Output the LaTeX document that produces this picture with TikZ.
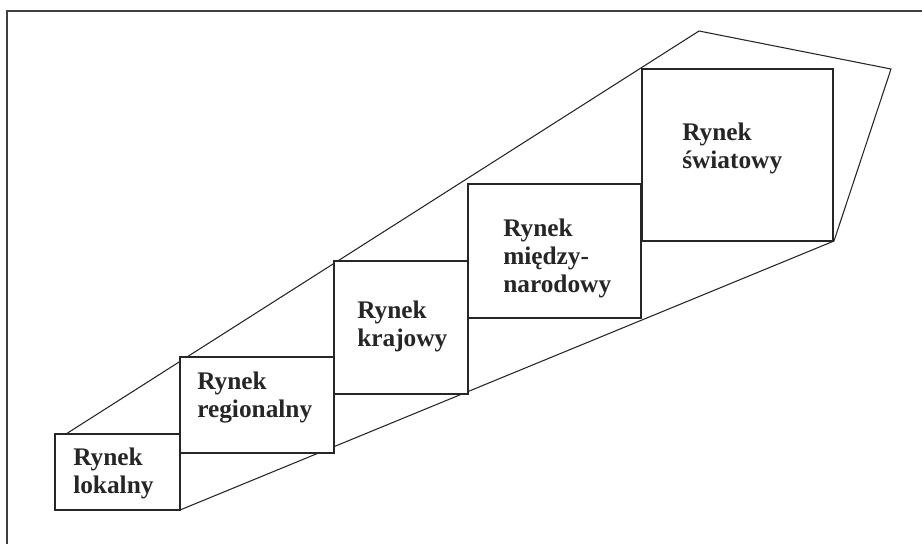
\documentclass[tikz,border=0pt]{standalone}
\usepackage{fontspec}
\setmainfont{Liberation Serif}

\tikzset{
  rynek/.style={draw=black!85, line width=0.9pt, fill=white, inner sep=0pt},
  napis/.style={anchor=base west, inner sep=0pt, align=left,
    font=\bfseries\fontsize{19}{21}\selectfont, text=black!85},
  obrys/.style={draw=black!85, line width=0.8pt}
}

\begin{document}
\begin{tikzpicture}[x=0.75pt, y=-0.75pt]
      \useasboundingbox (0,0) rectangle (922,544);
      % ramka
      \draw[draw=black!75, line width=1.1pt] (7,544) -- (7,11) -- (922,11);
      % obrys rynkow
      \coordinate (dol) at (66,434);
      \coordinate (szczyt) at (699,31);
      \coordinate (prawy) at (891,69);
      \draw[obrys] (dol) -- (szczyt) -- (prawy) -- (834,241) -- (180,510);
      % pudelka
      \node[rynek, minimum width=93.75pt, minimum height=57pt] (lok) at (117.5,472) {};
      \node[rynek, minimum width=115.5pt, minimum height=72pt] (reg) at (257,405) {};
      \node[rynek, minimum width=100.5pt, minimum height=99.75pt] (kraj) at (401,327.5) {};
      \node[rynek, minimum width=129.75pt, minimum height=100.5pt] (miedzy) at (554.5,251) {};
      \node[rynek, minimum width=143.25pt, minimum height=129pt] (swiat) at (737.5,155) {};
      % napisy (punkt = linia bazowa ostatniego wiersza)
      \node[napis] (tlok) at (73,493) {Rynek\\lokalny};
      \node[napis] (treg) at (197,417) {Rynek\\regionalny};
      \node[napis] (tkraj) at (357,346) {Rynek\\krajowy};
      \node[napis] (tmiedzy) at (503,292) {Rynek\\między-\\narodowy};
      \node[napis] (tswiat) at (682,168) {Rynek\\światowy};
\end{tikzpicture}
\end{document}
